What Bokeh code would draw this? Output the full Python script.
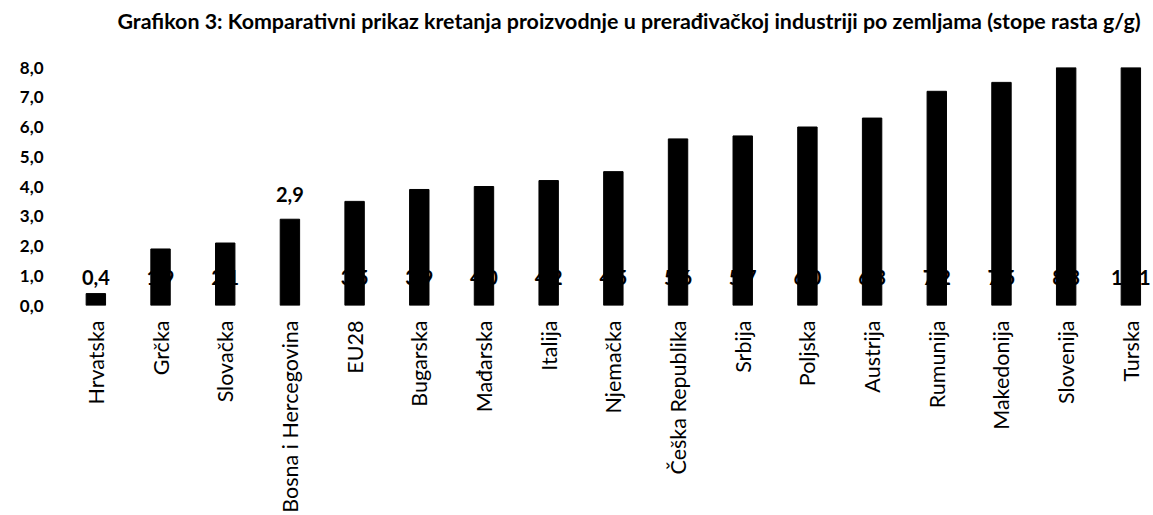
import math
from bokeh.plotting import figure
from bokeh.models import Range1d, FixedTicker, ColumnDataSource, Title
from bokeh.core.properties import value
from bokeh.embed import file_html
from bokeh.resources import INLINE

# ---------------- data ----------------
title_text = ("Grafikon 3: Komparativni prikaz kretanja proizvodnje u prerađivačkoj "
              "industriji po zemljama (stope rasta g/g)")
countries = ["Hrvatska", "Grčka", "Slovačka", "Bosna i Hercegovina", "EU28",
             "Bugarska", "Mađarska", "Italija", "Njemačka", "Češka Republika",
             "Srbija", "Poljska", "Austrija", "Rumunija", "Makedonija",
             "Slovenija", "Turska"]
growth = [0.4, 1.9, 2.1, 2.9, 3.5, 3.9, 4.0, 4.2, 4.5, 5.6,
          5.7, 6.0, 6.3, 7.2, 7.5, 8.3, 11.1]
label_above_bar = [False, False, False, True, False, False, False, False, False,
                   False, False, False, False, False, False, False, False]
y_ticks = [0, 1, 2, 3, 4, 5, 6, 7, 8]
y_tick_labels = ["0,0", "1,0", "2,0", "3,0", "4,0", "5,0", "6,0", "7,0", "8,0"]

# ---------------- figure ----------------
FONT = "Lato"
n = len(countries)
idx = list(range(n))

p = figure(width=1153, height=515,
           x_range=Range1d(-0.5, 16.35), y_range=Range1d(0, 8),
           output_backend="svg", toolbar_location=None,
           min_border_left=63, min_border_right=0,
           min_border_top=67, min_border_bottom=0)
p.outline_line_color = None
p.background_fill_color = "white"
p.border_fill_color = "white"
p.xgrid.visible = False
p.ygrid.visible = False
p.title_location = None

# white-on-white spacer closest to the plot area, then the visible title above it
spacer = Title(text=".", text_color="white", text_font_size="10px", standoff=18)
p.add_layout(spacer, "above")
main_title = Title(text=title_text, align="left", offset=54, vertical_align="top",
                   text_font=FONT, text_font_style="bold", text_font_size="21.4px",
                   text_color="black", standoff=7)
p.add_layout(main_title, "above")

src = ColumnDataSource(dict(
    x=idx, top=growth,
    ly=[v if above else 0.93 for v, above in zip(growth, label_above_bar)],
    dy=[-25 if above else 0 for above in label_above_bar],
    txt=[f"{v:.1f}".replace(".", ",") for v in growth],
))

p.vbar(x="x", top="top", width=0.3, bottom=0, source=src,
       fill_color="black", line_color="black")

p.text(x="x", y="ly", text="txt", y_offset="dy", source=src,
       text_align="center", text_baseline="middle",
       text_font=value(FONT), text_font_style="bold",
       text_font_size="20px", text_color="black")

# x axis
xa = p.xaxis[0]
xa.ticker = FixedTicker(ticks=idx)
xa.major_label_overrides = {i: c for i, c in zip(idx, countries)}
xa.major_label_orientation = math.pi / 2
xa.axis_line_color = None
xa.major_tick_line_color = None
xa.minor_tick_line_color = None
xa.major_tick_out = 0
xa.major_label_standoff = 15
xa.major_label_text_font = FONT
xa.major_label_text_font_size = "21.5px"
xa.major_label_text_color = "black"

# y axis
ya = p.yaxis[0]
ya.ticker = FixedTicker(ticks=y_ticks)
ya.major_label_overrides = {t: l for t, l in zip(y_ticks, y_tick_labels)}
ya.axis_line_color = None
ya.major_tick_line_color = None
ya.minor_tick_line_color = None
ya.major_tick_out = 0
ya.major_label_standoff = 20
ya.major_label_text_font = FONT
ya.major_label_text_font_style = "bold"
ya.major_label_text_font_size = "17px"
ya.major_label_text_color = "black"

open("out.html", "w").write(file_html(p, INLINE))
